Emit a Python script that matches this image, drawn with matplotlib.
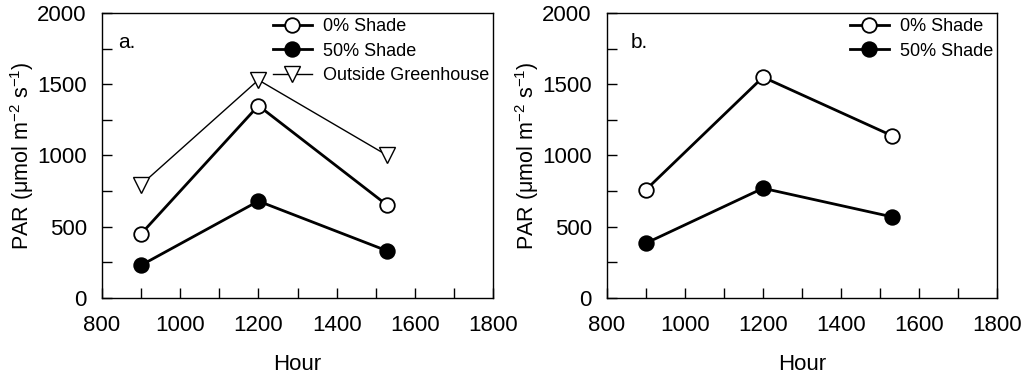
import matplotlib
matplotlib.use("Agg")
import matplotlib.pyplot as plt
from matplotlib.ticker import MultipleLocator

plt.rcParams['font.family'] = ['Liberation Sans', 'DejaVu Sans']
plt.rcParams['mathtext.fontset'] = 'custom'
plt.rcParams['mathtext.rm'] = 'Liberation Sans'
plt.rcParams['mathtext.it'] = 'Liberation Sans'

hours = [900, 1200, 1530]
a_shade0 = [450, 1350, 650]
a_shade50 = [230, 680, 330]
a_outside = [795, 1530, 1000]
b_shade0 = [760, 1550, 1140]
b_shade50 = [385, 770, 570]

fig = plt.figure(figsize=(10.24, 3.79), dpi=100)
axa = fig.add_axes([102/1024, 1-298/379, 391/1024, 285/379])
axb = fig.add_axes([607/1024, 1-298/379, 390/1024, 285/379])

ms = 10.5
for ax in (axa, axb):
    ax.set_xlim(800, 1800)
    ax.set_ylim(0, 2000)
    ax.xaxis.set_major_locator(MultipleLocator(200))
    ax.xaxis.set_minor_locator(MultipleLocator(100))
    ax.yaxis.set_major_locator(MultipleLocator(500))
    ax.yaxis.set_minor_locator(MultipleLocator(250))
    ax.tick_params(which='both', direction='in', top=False, right=False, labelsize=16, width=1)
    ax.tick_params(which='major', length=7)
    ax.tick_params(which='minor', length=7)
    ax.tick_params(axis='x', pad=12)
    ax.tick_params(axis='y', pad=11)
    ax.set_xlabel('Hour', fontsize=16, labelpad=13)
    ax.set_ylabel(r'PAR ($\mathrm{\mu}$mol m$^{-2}$ s$^{-1}$)', fontsize=15.5, labelpad=1)
    for s in ax.spines.values():
        s.set_linewidth(1)

leg_kw = dict(loc='upper right', bbox_to_anchor=(1.0, 0.995), frameon=False, fontsize=13,
              handlelength=2.2, handletextpad=0.6, labelspacing=0.42, borderaxespad=0.1,
              borderpad=0.1)

axa.plot(hours, a_shade0, '-o', color='black', mfc='white', mec='black', ms=ms, lw=2, mew=1.3, label='0% Shade')
axa.plot(hours, a_shade50, '-o', color='black', mfc='black', mec='black', ms=ms, lw=2, mew=1.3, label='50% Shade')
axa.plot(hours, a_outside, '-v', color='black', mfc='white', mec='black', ms=ms+1, lw=1.0, mew=1.0, label='Outside Greenhouse')
axa.text(0.04, 0.93, 'a.', transform=axa.transAxes, fontsize=15, va='top')
axa.legend(**leg_kw)

axb.plot(hours, b_shade0, '-o', color='black', mfc='white', mec='black', ms=ms, lw=2, mew=1.3, label='0% Shade')
axb.plot(hours, b_shade50, '-o', color='black', mfc='black', mec='black', ms=ms, lw=2, mew=1.3, label='50% Shade')
axb.text(0.06, 0.93, 'b.', transform=axb.transAxes, fontsize=15, va='top')
axb.legend(**leg_kw)

fig.savefig('out.png', dpi=100)
